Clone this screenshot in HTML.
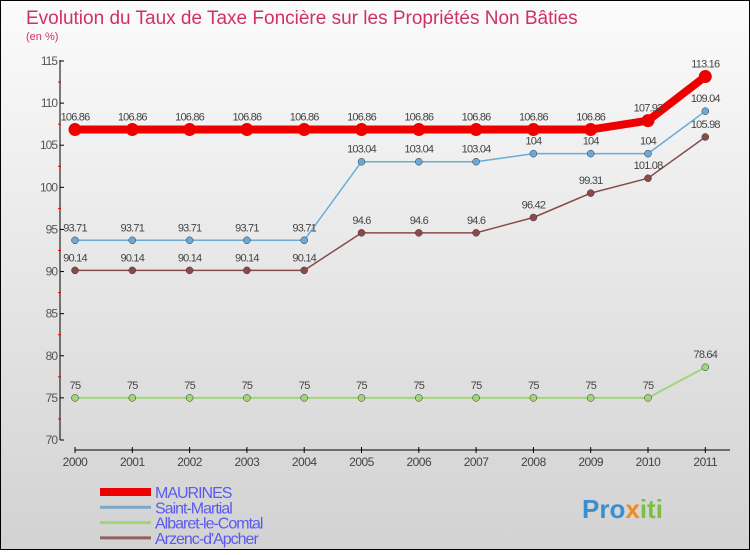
<!DOCTYPE html>
<html><head><meta charset="utf-8"><style>
body{margin:0;width:750px;height:550px;overflow:hidden;font-family:"Liberation Sans",sans-serif}
</style></head><body>
<svg width="750" height="550" xmlns="http://www.w3.org/2000/svg">
<defs><linearGradient id="bg" x1="0" y1="0" x2="0" y2="1"><stop offset="0" stop-color="#fbfbfb"/><stop offset="1" stop-color="#d2d2d2"/></linearGradient></defs>
<rect x="0.5" y="0.5" width="749" height="549" fill="url(#bg)" stroke="#000"/>
<text x="26" y="24" font-size="19" fill="#d0306a">Evolution du Taux de Taxe Foncière sur les Propriétés Non Bâties</text>
<text x="26" y="40" font-size="11" fill="#d0306a">(en %)</text>
<g id="axes"></g>
<g id="series"></g>
<g id="legend"></g>
<text x="582" y="518" font-size="26" font-weight="bold" fill="#3a8fd0">Pro<tspan fill="#f08a20">x</tspan><tspan fill="#7ac043">iti</tspan></text>
</svg>
<script>
const years=[2000,2001,2002,2003,2004,2005,2006,2007,2008,2009,2010,2011];
const yTicks=[70,75,80,85,90,95,100,105,110,115];
const maurines=[106.86,106.86,106.86,106.86,106.86,106.86,106.86,106.86,106.86,106.86,107.92,113.16];
const saintMartial=[93.71,93.71,93.71,93.71,93.71,103.04,103.04,103.04,104,104,104,109.04];
const albaret=[75,75,75,75,75,75,75,75,75,75,75,78.64];
const arzenc=[90.14,90.14,90.14,90.14,90.14,94.6,94.6,94.6,96.42,99.31,101.08,105.98];
const NS="http://www.w3.org/2000/svg";
function xs(i){return 75+i*57.3;}
function ys(v){return 440-(v-70)*(379/45);}
function mk(t,a,p){const e=document.createElementNS(NS,t);for(const k in a)e.setAttribute(k,a[k]);p.appendChild(e);return e;}
const ax=document.getElementById('axes');
let l=mk('line',{x1:60,y1:60,x2:60,y2:440,stroke:'#000'},ax);


yTicks.forEach(v=>{
 mk('line',{x1:60,y1:ys(v),x2:64,y2:ys(v),stroke:'#000'},ax);
 if(v<115) mk('line',{x1:58,y1:ys(v+2.5),x2:61,y2:ys(v+2.5),stroke:'#e00'},ax);
 const t=mk('text',{x:57,y:ys(v)+4,'font-size':12,fill:'#555','text-anchor':'end','letter-spacing':'-1'},ax);
 t.textContent=v;
 
 
});
l=mk('line',{x1:75,y1:450,x2:730,y2:450,stroke:'#000'},ax);


years.forEach((y,i)=>{
 mk('line',{x1:xs(i),y1:447,x2:xs(i),y2:453,stroke:'#000'},ax);
 const t=mk('text',{x:xs(i),y:466,'font-size':12,fill:'#444','text-anchor':'middle','letter-spacing':'-0.5'},ax);
 t.textContent=y;
 
 
});
const sg=document.getElementById('series');
function series(data,color,w,r,name,labels){
 const g=mk('g',{},sg);
 
 
 mk('polyline',{points:data.map((v,i)=>xs(i)+','+ys(v)).join(' '),fill:'none',stroke:color,'stroke-width':w},g);
 data.forEach((v,i)=>{
  const c=mk('circle',{cx:xs(i),cy:ys(v),r:r,fill:color,stroke:r<5?'#333':'none','stroke-width':0.5},g);
  
  
  if(labels){const t=mk('text',{x:xs(i),y:ys(v)-9,'font-size':11,fill:'#444','text-anchor':'middle','letter-spacing':'-0.8'},g);
  t.textContent=v;
  
  }
 });
}
series(albaret,'#9fd67a',2,3.5,'albaret-series',true);
series(arzenc,'#8b4a4a',1.5,3.5,'arzenc-series',true);
series(saintMartial,'#6aaad8',1.5,3.5,'saint-martial-series',true);
series(maurines,'#ee0000',8,6.5,'maurines-series',true);
const lg=document.getElementById('legend');
const legNames=['MAURINES','Saint-Martial','Albaret-le-Comtal','Arzenc-d\'Apcher'];
const legColors=['#ee0000','#7aa8c8','#9fd67a','#946060'];
const legW=[8,3,3,3];
legNames.forEach((n,i)=>{
 const y=492+i*15.3;
 const g=mk('g',{},lg);
 
 
 mk('line',{x1:100,y1:y,x2:151,y2:y,stroke:legColors[i],'stroke-width':legW[i]},g);
 const t=mk('text',{x:155,y:y+6,'font-size':16,fill:'#5a5af0','letter-spacing':'-1'},g);
 t.textContent=n;
});
</script>
</body></html>
